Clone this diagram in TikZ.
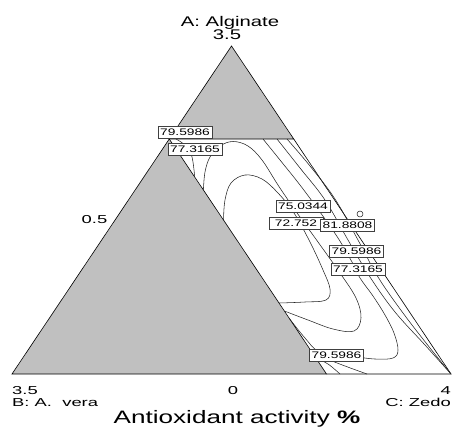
\documentclass[tikz,border=0pt]{standalone}
\usepackage{fontspec}
\newfontfamily\plotfont[FakeStretch=1.45]{Liberation Sans}
\newfontfamily\tickfont[FakeStretch=1.6]{Liberation Sans}
\usetikzlibrary{calc}
\definecolor{regiongray}{RGB}{192,192,192}

\begin{document}
\begin{tikzpicture}[
  x=1pt, y=-1pt,
  % shaded (infeasible) regions
  region/.style = {fill=regiongray, draw=black, line width=0.6pt},
  contour/.style = {draw=black!85, line width=0.55pt},
  vertexlabel/.style = {font=\plotfont\fontsize{14}{15}\selectfont, inner sep=0pt},
  ticklabel/.style = {font=\tickfont\fontsize{11.5}{12}\selectfont, inner sep=0pt},
  valuebox/.style = {
    draw=black!75, fill=white, line width=0.6pt,
    inner sep=0.8pt, minimum width=54pt, minimum height=12pt,
    font=\plotfont\fontsize{9.5}{10}\selectfont
  }
]
\useasboundingbox (0,0) rectangle (453,440);

% ---- corners ----
\coordinate (A) at (231.5,46);
\coordinate (B) at (12,374);
\coordinate (C) at (451,374);
\coordinate (P) at ($(A)!93/328!(B)$);
\coordinate (R) at ($(A)!93/328!(C)$);
\coordinate (Q) at ($(P)+(C)-(R)$);

% ---- regions ----
\draw[region] (A) -- (P) -- (R) -- cycle;
\draw[region] (B) -- (P) -- (Q) -- cycle;
\draw[line width=0.6pt] (R) -- (C) -- (Q);

% ---- contours ----
\draw[contour] plot[smooth, tension=0.6] coordinates {(176,139) (186,146) (192,157) (194.7,177)};
\draw[contour] plot[smooth, tension=0.6] coordinates {(203.4,190) (205,172) (210,157) (220,146) (233,141.5) (248,146) (262,160) (278,185) (295,210) (318,242) (340,273) (356,298) (361,318) (354,331) (333,329) (308,320) (284.4,311)};
\draw[contour] plot[smooth, tension=0.6] coordinates {(223.5,220) (225,200) (231,183) (245,175) (262,179) (278,193) (294,213) (310,242) (323,270) (330,289) (326,300) (305,302) (279,303)};
\draw[contour] plot[smooth, tension=0.6] coordinates {(263,139) (280,160) (300,185) (320,212) (338,238) (352,262) (360,278) (373,296) (385,315) (394,333) (398,350) (393,358) (375,359) (350,356) (320,352) (305,338) (289,318)};
\draw[contour] plot[smooth, tension=0.6] coordinates {(277,139) (300,168) (325,200) (348,240) (370,277) (395,312) (425,345) (451,374)};
\draw[contour] plot[smooth, tension=0.6] coordinates {(287,139) (310,166) (335,199) (358,240) (378,277) (403,313) (430,348) (451,374)};
\draw[contour] plot[smooth, tension=0.6] coordinates {(310.5,350) (325,358) (345,366) (367,374)};
\draw[contour] plot[smooth, tension=0.6] coordinates {(315.8,358) (328,364) (340,374)};
\draw[contour] (360,214) circle[radius=3];

% ---- contour values ----
\node[valuebox] (v1) at (185,132) {79.5986};
\node[valuebox] (v2) at (195,149) {77.3165};
\node[valuebox] (v3) at (303,206) {75.0344};
\node[valuebox] (v4) at (296,223) {72.752};
\node[valuebox] (v5) at (347.5,225) {81.8808};
\node[valuebox] (v6) at (356.5,251) {79.5986};
\node[valuebox] (v7) at (358,269.5) {77.3165};
\node[valuebox] (v8) at (336.5,355) {79.5986};

% ---- axes ----
\node[vertexlabel, anchor=base] (nameA) at (230,26) {A: Alginate};
\node[vertexlabel, anchor=base] (maxA) at (227,39) {3.5};
\node[ticklabel, anchor=base] (midA) at (94.5,223) {0.5};
\node[ticklabel, anchor=base west] (maxB) at (12,394.5) {3.5};
\node[ticklabel, anchor=base] (zeroB) at (233,394.5) {0};
\node[ticklabel, anchor=base east] (maxC) at (451,394.5) {4};
\node[ticklabel, anchor=base west] (nameB) at (12,406) {B: A.\ \ vera};
\node[ticklabel, anchor=base east] (nameC) at (451,406) {C: Zedo};
\node[font=\plotfont\fontsize{18}{20}\selectfont, inner sep=0pt, anchor=base] (title) at (237,423) {Antioxidant activity {\bfseries\%}};

\end{tikzpicture}
\end{document}
